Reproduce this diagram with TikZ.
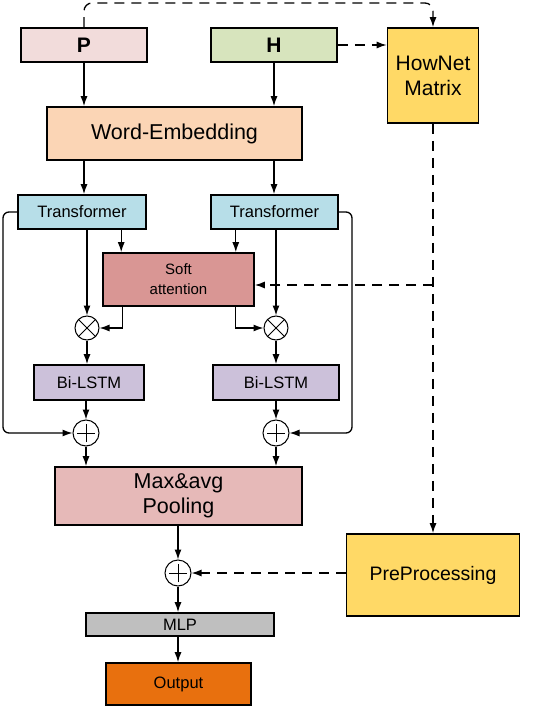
\documentclass[tikz,border=0pt]{standalone}
\usepackage{fontspec}
\setmainfont{Liberation Sans}
\usetikzlibrary{arrows.meta}
\definecolor{cP}{HTML}{F2DCDB}
\definecolor{cH}{HTML}{D7E4BD}
\definecolor{cHN}{HTML}{FFD966}
\definecolor{cWE}{HTML}{FBD5B5}
\definecolor{cTR}{HTML}{B7DEE8}
\definecolor{cSA}{HTML}{D99694}
\definecolor{cBL}{HTML}{CCC1DA}
\definecolor{cPO}{HTML}{E6B9B8}
\definecolor{cML}{HTML}{BFBFBF}
\definecolor{cOU}{HTML}{E8700E}
\tikzset{
  box/.style={draw=black, line width=1.6pt, inner sep=0pt, align=center, rectangle},
  opnode/.style={draw=black, line width=1pt, fill=white, circle, minimum size=#1, inner sep=0pt},
  arr/.style={line width=1.3pt, -{Latex[length=10pt,width=7pt]}},
  dsh/.style={dash pattern=on 10pt off 7pt},
  oplines/.style={line width=0.8pt}
}
\begin{document}
\begin{tikzpicture}[x=1pt,y=-1pt]
\useasboundingbox (0,0) rectangle (532,708);
% boxes
\node[box, fill=cP, minimum width=126pt, minimum height=34pt, font=\fontsize{21}{24}\selectfont\bfseries] (P) at (84,45) {P};
\node[box, fill=cH, minimum width=126pt, minimum height=34pt, font=\fontsize{21}{24}\selectfont\bfseries] (H) at (274,45) {H};
\node[box, fill=cHN, minimum width=91pt, minimum height=95pt, font=\fontsize{21}{25}\selectfont] (HN) at (433,75.5) {HowNet\\Matrix};
\node[box, fill=cWE, minimum width=255pt, minimum height=53pt, font=\fontsize{21.5}{24}\selectfont] (WE) at (174.5,133.5) {Word-Embedding};
\node[box, fill=cTR, minimum width=128pt, minimum height=34pt, font=\fontsize{16.5}{19}\selectfont] (TL) at (82,212) {Transformer};
\node[box, fill=cTR, minimum width=127pt, minimum height=34pt, font=\fontsize{16.5}{19}\selectfont] (TR) at (274.5,212) {Transformer};
\node[box, fill=cSA, minimum width=151pt, minimum height=53pt, font=\fontsize{15}{20}\selectfont] (SA) at (178.5,279.5) {Soft\\attention};
\node[opnode=24pt] (ML) at (87,328) {};
\node[opnode=24pt] (MR) at (276,328) {};
\node[box, fill=cBL, minimum width=110pt, minimum height=35pt, font=\fontsize{16.5}{19}\selectfont] (BL) at (89,382.5) {Bi-LSTM};
\node[box, fill=cBL, minimum width=126pt, minimum height=35pt, font=\fontsize{16.5}{19}\selectfont] (BR) at (276,382.5) {Bi-LSTM};
\node[opnode=26pt] (AL) at (86,433) {};
\node[opnode=26pt] (AR) at (276,433) {};
\node[box, fill=cPO, minimum width=247pt, minimum height=58pt, font=\fontsize{21.5}{25}\selectfont] (PO) at (178.5,496) {Max\&avg\\Pooling};
\node[opnode=26pt] (AS) at (178,573) {};
\node[box, fill=cHN, minimum width=173pt, minimum height=82pt, font=\fontsize{19.5}{22}\selectfont] (PRE) at (433,575) {PreProcessing};
\node[box, fill=cML, minimum width=188pt, minimum height=23pt, font=\fontsize{16.5}{19}\selectfont] (MLP) at (180,624.5) {MLP};
\node[box, fill=cOU, minimum width=145pt, minimum height=42pt, font=\fontsize{16.5}{19}\selectfont] (OUT) at (178.5,684) {Output};
% operator symbols
\draw[oplines] (ML.north east) -- (ML.south west) (ML.north west) -- (ML.south east);
\draw[oplines] (MR.north east) -- (MR.south west) (MR.north west) -- (MR.south east);
\foreach \n in {AL,AR,AS}{
  \draw[oplines] ([xshift=-9pt]\n.center) -- ([xshift=9pt]\n.center)
                 ([yshift=-9pt]\n.center) -- ([yshift=9pt]\n.center);
}
% connectors
\draw[arr] (P.south) -- (P.south |- WE.north);
\draw[arr] (H.south) -- (H.south |- WE.north);
\draw[arr, dsh] (H.east) -- (HN.west |- H.east);
\coordinate (tl) at (84,3);
\coordinate (tr) at (433,3);
\draw[arr, dsh, rounded corners=8pt] (P.north) -- (tl) -- (tr) -- (HN.north);
\draw[arr, dsh] (HN.south) -- (PRE.north);
\draw[arr] (P.south |- WE.south) -- (P.south |- TL.north);
\draw[arr] (H.south |- WE.south) -- (H.south |- TR.north);
\draw[arr] ([xshift=19pt]SA.north west |- TL.south) -- ([xshift=19pt]SA.north west);
\draw[arr] ([xshift=-19pt]SA.north east |- TR.south) -- ([xshift=-19pt]SA.north east);
\draw[arr] (ML |- TL.south) -- (ML.north);
\draw[arr] (MR |- TR.south) -- (MR.north);
\draw[arr] ([xshift=20pt]SA.south west) |- (ML.east);
\draw[arr] ([xshift=-19pt]SA.south east) |- (MR.west);
\coordinate (hp) at (433,285);
\draw[arr, dsh] (hp) -- (hp -| SA.east);
\draw[arr] (ML.south) -- (ML.south |- BL.north);
\draw[arr] (MR.south) -- (MR.south |- BR.north);
\draw[arr] (AL |- BL.south) -- (AL.north);
\draw[arr] (AR |- BR.south) -- (AR.north);
\coordinate (lt) at (3,212);
\coordinate (lb) at (3,433);
\coordinate (rt) at (352,212);
\coordinate (rb) at (352,433);
\draw[arr, rounded corners=6pt] (TL.west) -- (lt) -- (lb) -- (AL.west);
\draw[arr, rounded corners=6pt] (TR.east) -- (rt) -- (rb) -- (AR.east);
\draw[arr] (AL.south) -- (AL |- PO.north);
\draw[arr] (AR.south) -- (AR |- PO.north);
\draw[arr] (AS |- PO.south) -- (AS.north);
\draw[arr, dsh] (PRE.west |- AS) -- (AS.east);
\draw[arr] (AS.south) -- (AS |- MLP.north);
\draw[arr] (AS |- MLP.south) -- (AS |- OUT.north);
\end{tikzpicture}
\end{document}
